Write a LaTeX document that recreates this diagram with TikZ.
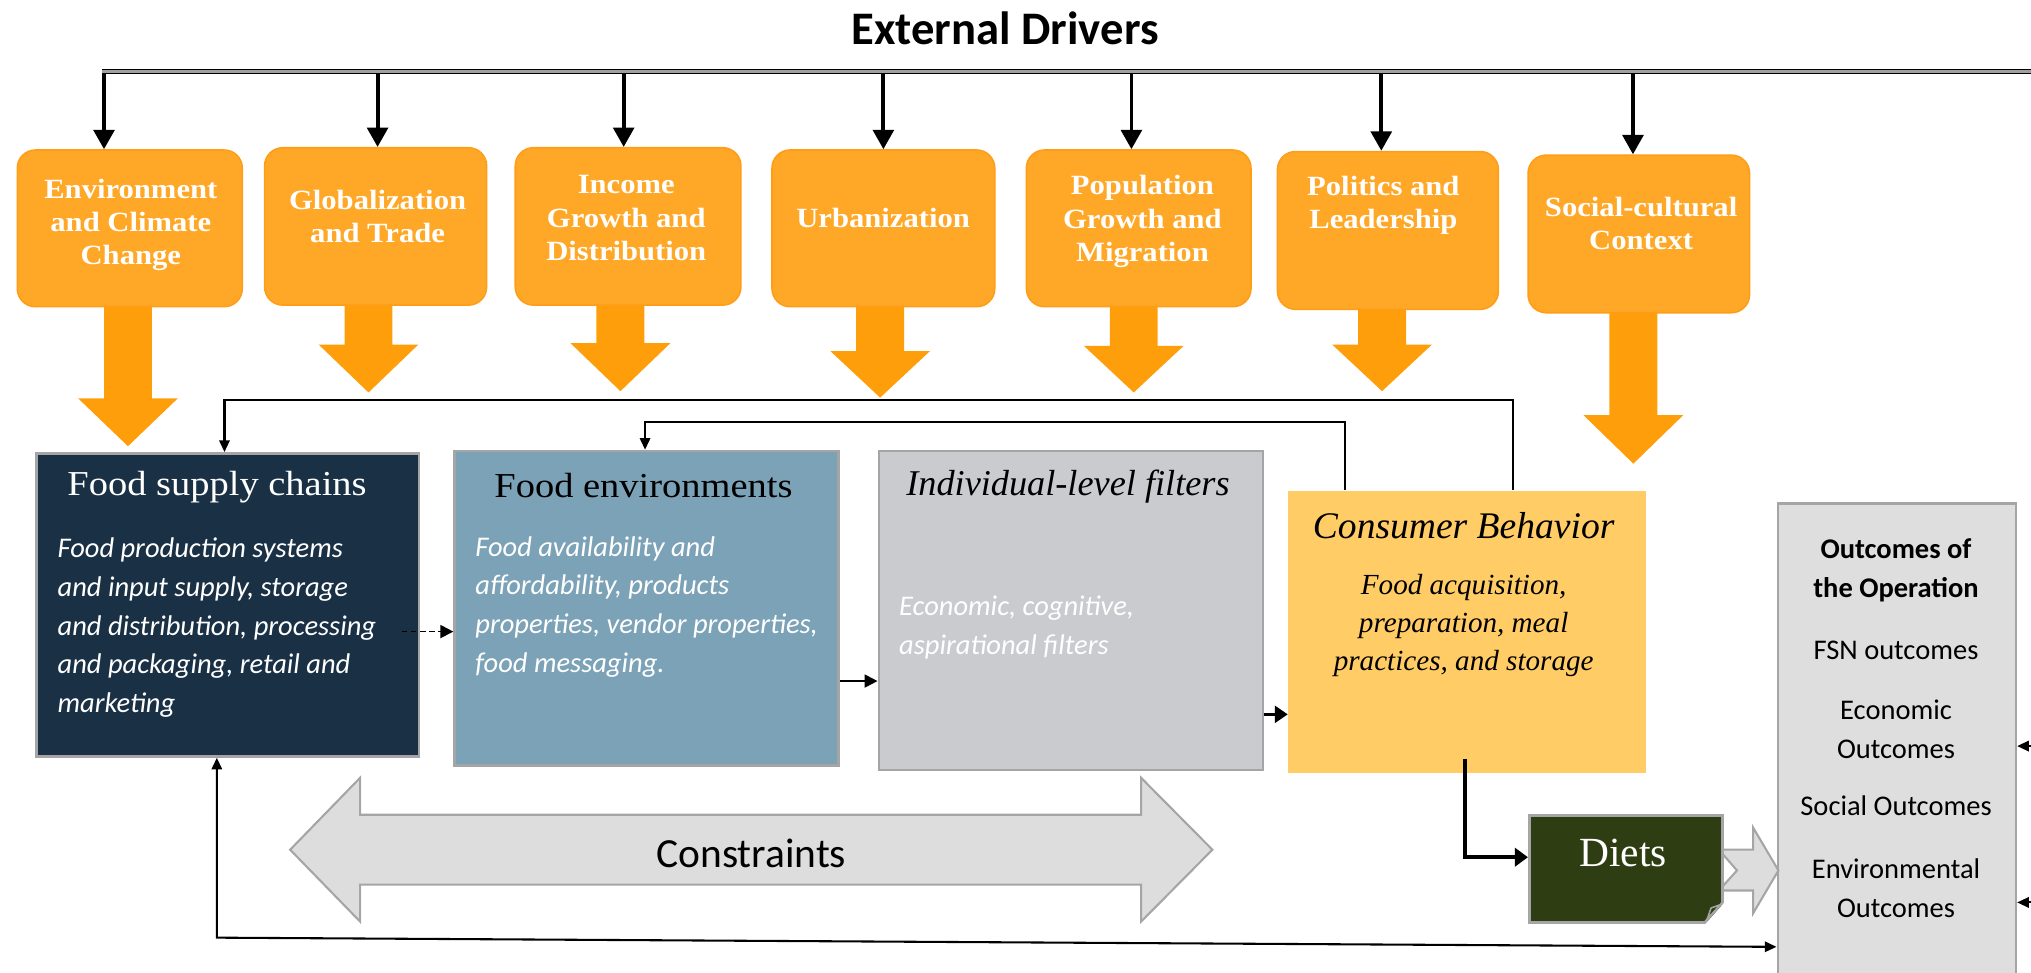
\documentclass[tikz,border=0pt]{standalone}
\usepackage{fontspec}
\setmainfont{Liberation Serif}
\newfontfamily\cambria[FakeStretch=1.1]{Liberation Serif}
\newfontfamily\serifplain{Liberation Serif}
\newfontfamily\calibri{Carlito}
\usetikzlibrary{arrows.meta,calc}
\definecolor{drvfill}{HTML}{FFA726}
\definecolor{drvdraw}{HTML}{FF9D17}
\definecolor{bigarr}{HTML}{FF9E0B}
\definecolor{navy}{HTML}{1A3045}
\definecolor{steel}{HTML}{7BA2B6}
\definecolor{filtergray}{HTML}{C9CBCF}
\definecolor{consumer}{HTML}{FFCC66}
\definecolor{outgray}{HTML}{DEDEDE}
\definecolor{dietgreen}{HTML}{2F3D13}
\definecolor{bordergray}{HTML}{A5A5A5}
\definecolor{constrfill}{HTML}{DDDDDD}
\definecolor{linegray}{HTML}{A0A0A0}
\newcommand\bigdownarrow[4]{%
  \fill[bigarr] ({#1-18.5},#2) -- ({#1+18.5},#2) -- ({#1+18.5},#3) -- ({#1+38.5},#3)
    -- (#1,#4) -- ({#1-38.5},#3) -- ({#1-18.5},#3) -- cycle;}
\begin{document}
\begin{tikzpicture}[x=1pt,y=-1pt,
  drv/.style={draw=drvdraw, line width=1.2pt, fill=drvfill, rounded corners=14pt, inner sep=0pt},
  drvtext/.style={text=white, align=center, inner sep=0pt, font=\cambria\bfseries\fontsize{21.5}{25.7}\selectfont},
  dline/.style={draw=black, line width=0.9pt, double=linegray, double distance=1.8pt},
  drvarrow/.style={line width=3pt, -{Triangle[length=15pt,width=16pt]}},
  mainbox/.style={draw=bordergray, line width=2pt, inner sep=0pt},
  boxtitle/.style={inner sep=0pt, font=\cambria\fontsize{27}{32}\selectfont},
  boxtitleit/.style={inner sep=0pt, font=\serifplain\itshape\fontsize{28}{32}\selectfont},
  bodytext/.style={inner sep=0pt, align=left, anchor=west, text=white, font=\calibri\itshape\fontsize{22}{29.9}\selectfont},
  outtext/.style={inner sep=0pt, align=center, font=\calibri\fontsize{22}{30}\selectfont},
  fb/.style={line width=1.6pt, -{Triangle[length=9pt,width=8pt]}},
  thin arrow/.style={line width=1.4pt, -{Triangle[length=10pt,width=10pt]}},
  thick arrow/.style={line width=3.5pt, -{Triangle[length=10pt,width=14pt]}},
  hollowarrow/.style={draw=bordergray, line width=1.6pt, fill=constrfill}
]
\useasboundingbox (0,0) rectangle (1568,751);
\clip (0,0) rectangle (1568,751);

% title
\node[inner sep=0pt, font=\calibri\bfseries\fontsize{36}{40}\selectfont] (title) at (776,22) {External Drivers};

% big orange arrows (behind boxes)
\bigdownarrow{98.8}{225}{307.5}{344.5}
\bigdownarrow{284.5}{225}{266}{303}
\bigdownarrow{479}{225}{265}{302}
\bigdownarrow{679.5}{225}{271}{307}
\bigdownarrow{875.3}{225}{267}{303}
\bigdownarrow{1067}{225}{266}{302}
\bigdownarrow{1261}{225}{320.5}{358}

% driver boxes
\node[drv, minimum width=173.7pt, minimum height=121pt] (d1) at (100.2,176.3) {};
\node[drv, minimum width=171.4pt, minimum height=121.5pt] (d2) at (290,174.8) {};
\node[drv, minimum width=174.2pt, minimum height=121.5pt] (d3) at (484.9,174.8) {};
\node[drv, minimum width=172pt, minimum height=121pt] (d4) at (682,176.3) {};
\node[drv, minimum width=173.4pt, minimum height=121pt] (d5) at (879.1,176.3) {};
\node[drv, minimum width=170.6pt, minimum height=121.8pt] (d6) at (1071.5,177.9) {};
\node[drv, minimum width=171pt, minimum height=121.7pt] (d7) at (1265.2,180.6) {};

\node[drvtext] (t1) at (101,173.7) {Environment\\and Climate\\Change};
\node[drvtext] (t2) at (291.5,167.3) {Globalization\\and Trade};
\node[drvtext] (t3) at (483.5,168.5) {Income\\Growth and\\Distribution};
\node[drvtext] (t4) at (681.8,168.5) {Urbanization};
\node[drvtext] (t5) at (882,171.1) {Population\\Growth and\\Migration};
\node[drvtext] (t6) at (1068,158.3) {Politics and\\Leadership};
\node[drvtext] (t7) at (1267,172.4) {Social-cultural\\Context};

% top distribution line and arrows
\coordinate (k1) at (80.3,55.3);
\coordinate (k2) at (291.5,55.3);
\coordinate (k3) at (481.5,55.3);
\coordinate (k4) at (682,55.3);
\coordinate (k5) at (873.5,55.3);
\coordinate (k6) at (1066.4,55.3);
\coordinate (k7) at (1260.7,55.3);
\coordinate (kend) at (1580,55.3);
\draw[drvarrow] (k1) -- (k1 |- d1.north);
\draw[drvarrow] (k2) -- (k2 |- d2.north);
\draw[drvarrow] (k3) -- (k3 |- d3.north);
\draw[drvarrow] (k4) -- (k4 |- d4.north);
\draw[drvarrow] (k5) -- (k5 |- d5.north);
\draw[drvarrow] (k6) -- (k6 |- d6.north);
\draw[drvarrow] (k7) -- (k7 |- d7.north);
\draw[dline] ($(k1)+(-1.5,0)$) -- (kend);

% constraints arrow
\draw[hollowarrow] (224,656) -- (278,600.5) -- (278,629) -- (881,629) -- (881,600.5) -- (936,656)
  -- (881,711.5) -- (881,683) -- (278,683) -- (278,711.5) -- cycle;
\node[inner sep=0pt, font=\calibri\fontsize{32}{36}\selectfont] (constr) at (580,659) {Constraints};

% main boxes
\node[mainbox, fill=navy, minimum width=295.4pt, minimum height=234pt] (fsc) at (175.8,467) {};
\node[mainbox, fill=steel, minimum width=296.4pt, minimum height=242.8pt] (fe) at (499.2,469.6) {};
\node[mainbox, fill=filtergray, minimum width=296.5pt, minimum height=246.3pt] (ind) at (826.75,471.35) {};
\node[fill=consumer, inner sep=0pt, minimum width=276.1pt, minimum height=217.8pt] (cons) at (1132.45,487.6) {};
\node[mainbox, fill=outgray, minimum width=183.8pt, minimum height=391.2pt] (out) at (1464.4,584.4) {};

% diets -> outcomes notched hollow arrow
\draw[hollowarrow] (1327,656) -- (1353.5,656) -- (1353.5,639) -- (1373,672) -- (1353.5,705)
  -- (1353.5,687.5) -- (1327,687.5) -- (1341,672) -- cycle;
\node[mainbox, fill=dietgreen, minimum width=149pt, minimum height=82.8pt] (diets) at (1255.1,670.8) {};
\fill[white] (1331,697) -- (1331,714) -- (1316,714) -- cycle;
\draw[bordergray, line width=1.8pt] (1329.6,697) -- (1316,712.2);
\draw[bordergray, line width=1.2pt, fill=dietgreen] (1328,698.5) -- (1321,701) -- (1318,709.5) -- cycle;

% titles
\node[boxtitle, text=white] (fsct) at (167.6,376) {Food supply chains};
\node[boxtitle, text=black] (fet) at (496.8,374.6) {Food environments};
\node[boxtitleit] (indt) at (824.5,376) {Individual-level filters};
\node[boxtitleit, font=\serifplain\itshape\fontsize{29}{32}\selectfont] (const) at (1130,406) {Consumer Behavior};
\node[inner sep=0pt, text=white, font=\serifplain\fontsize{32}{36}\selectfont] (dietst) at (1253,658.6) {Diets};

% body texts
\node[bodytext] (fscb) at (44.3,484.6) {Food production systems\\and input supply, storage\\and distribution, processing\\and packaging, retail and\\marketing};
\node[bodytext] (feb) at (366.8,468.4) {Food availability and\\affordability, products\\properties, vendor properties,\\food messaging.};
\node[bodytext] (indb) at (694,484.2) {Economic, cognitive,\\aspirational filters};
\node[inner sep=0pt, align=center, font=\serifplain\itshape\fontsize{22.5}{29.3}\selectfont] (consb) at (1130,483) {Food acquisition,\\preparation, meal\\practices, and storage};

% outcomes texts
\node[outtext, font=\calibri\bfseries\fontsize{22}{30}\selectfont] (o1) at (1463.8,440.5) {Outcomes of\\the Operation};
\node[outtext] (o2) at (1463.8,501.8) {FSN outcomes};
\node[outtext] (o3) at (1463.8,562.8) {Economic\\Outcomes};
\node[outtext] (o4) at (1463.8,622.3) {Social Outcomes};
\node[outtext] (o5) at (1463.8,685.5) {Environmental\\Outcomes};

% connectors between main boxes
\draw[thin arrow, dash pattern=on 4pt off 3pt] ($(fsc.east |- 0,487.6)+(-14,0)$) -- (fe.west |- 0,487.6);
\draw[thin arrow] (fe.east |- 0,525.8) -- (ind.west |- 0,525.8);
\draw[line width=2.2pt, -{Triangle[length=10pt,width=13pt]}] (ind.east |- 0,551.5) -- (cons.west |- 0,551.5);
\coordinate (cb) at (1131,585.6);
\draw[thick arrow] (cb) |- ($(diets.west)+(0,-9)$);

% feedback loops
\coordinate (fa) at (173.3,309);
\coordinate (fb1) at (498,325.6);
\draw[fb] (cons.north -| 1168,0) |- (fa) -- (fsc.north -| fa);
\draw[fb] (cons.north -| 1038.6,0) |- (fb1) -- (fe.north -| fb1);
\coordinate (fc) at (167.4,723.9);
\draw[fb, {Triangle[length=9pt,width=8pt]}-{Triangle[length=9pt,width=8pt]}] (fsc.south -| fc) -- (fc) -- (out.west |- 0,731);

% arrows entering outcomes from the right
\coordinate (r1) at (1580,576);
\coordinate (r2) at (1580,696.7);
\draw[fb] (r1) -- (out.east |- r1);
\draw[fb] (r2) -- (out.east |- r2);
\end{tikzpicture}
\end{document}
